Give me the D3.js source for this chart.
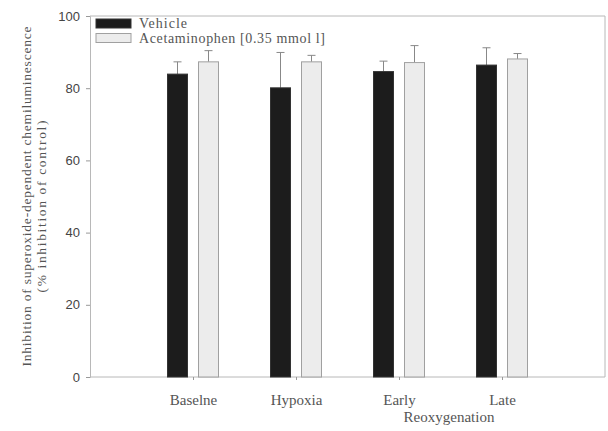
<!DOCTYPE html>
<html>
<head>
<meta charset="utf-8">
<script src="https://cdn.jsdelivr.net/npm/d3@7"></script>
<style>
  body { margin: 0; background: #ffffff; }
</style>
</head>
<body>
<div class="chart-wrapper"></div>
<script>
let categories = ["Baseline", "Hypoxia", "Early", "Late"];
let categoryLabels = ["Baselne", "Hypoxia", "Early", "Late"];
let seriesNames = ["Vehicle", "Acetaminophen [0.35 mmol l]"];
let vehicleValues = [83.9, 80.1, 84.6, 86.4];
let vehicleErrors = [3.4, 9.8, 2.9, 4.8];
let acetValues = [87.3, 87.3, 87.1, 88.1];
let acetErrors = [3.1, 1.8, 4.7, 1.5];
let yTicks = [0, 20, 40, 60, 80, 100];

let w = 608;
let h = 431;
let plotLeft = 90;
let plotRight = 605;
let plotTop = 16;
let plotBottom = 377;
let barW = 20;
let barGap = 11;
let serif = "'Liberation Serif', 'DejaVu Serif', serif";
let textColor = "#555";

let viz = d3.select(".chart-wrapper")
          .append("svg")
          .attr("width", w)
          .attr("height", h)
          .style("background-color", "#ffffff")
;

let xScale = d3.scalePoint().domain(categories).range([plotLeft, plotRight]).padding(1);
let yScale = d3.scaleLinear().domain([0, 100]).range([plotBottom, plotTop]);

// frame (top + right)
viz.append("path")
    .attr("d", "M" + plotLeft + "," + plotTop + "H" + plotRight + "V" + plotBottom)
    .attr("fill", "none")
    .attr("stroke", "#b8b8b8")
    .attr("stroke-width", 1)
;

// y axis
let yAxis = d3.axisLeft(yScale).tickValues(yTicks).tickSize(4).tickPadding(6);
let yAxisGroup = viz.append("g")
                    .attr("class", "yaxisgroup")
                    .attr("transform", "translate(" + plotLeft + ",0)")
;
yAxisGroup.call(yAxis);
yAxisGroup.select(".domain").attr("stroke", "#b8b8b8");
yAxisGroup.selectAll(".tick line").attr("stroke", "#999");
yAxisGroup.selectAll(".tick text")
            .attr("fill", "#444")
            .style("font-family", "'Liberation Sans', Arial, sans-serif")
            .style("font-size", "13px")
;

// x axis
let xAxis = d3.axisBottom(xScale).tickSize(3).tickFormat((d, i) => categoryLabels[i]).tickPadding(14);
let xAxisGroup = viz.append("g")
                    .attr("class", "xaxisgroup")
                    .attr("transform", "translate(0," + plotBottom + ")")
;
xAxisGroup.call(xAxis);
xAxisGroup.select(".domain").attr("d", "M" + plotLeft + ",0H" + plotRight).attr("stroke", "#b8b8b8");
xAxisGroup.selectAll(".tick line").attr("stroke", "#999");
xAxisGroup.selectAll(".tick text")
            .attr("fill", textColor)
            .style("font-family", serif)
            .style("font-size", "15px")
;

// bars
let groups = viz.append("g").attr("class", "bargroup");
let barData = [];
for (let i = 0; i < categories.length; i++) {
  barData.push({cat: categories[i], s: 0, v: vehicleValues[i], e: vehicleErrors[i]});
  barData.push({cat: categories[i], s: 1, v: acetValues[i], e: acetErrors[i]});
}

function barX(d) {
  if (d.s == 0) {
    return xScale(d.cat) - barGap / 2 - barW;
  } else {
    return xScale(d.cat) + barGap / 2;
  }
}

// error bars (drawn first so bar covers the lower part)
groups.selectAll(".errline").data(barData).enter()
      .append("line")
      .attr("class", "errline")
      .attr("x1", d => barX(d) + barW / 2)
      .attr("x2", d => barX(d) + barW / 2)
      .attr("y1", d => yScale(d.v))
      .attr("y2", d => yScale(d.v + d.e))
      .attr("stroke", "#888")
      .attr("stroke-width", 1)
;
groups.selectAll(".errcap").data(barData).enter()
      .append("line")
      .attr("class", "errcap")
      .attr("x1", d => barX(d) + barW / 2 - 4)
      .attr("x2", d => barX(d) + barW / 2 + 4)
      .attr("y1", d => yScale(d.v + d.e))
      .attr("y2", d => yScale(d.v + d.e))
      .attr("stroke", "#888")
      .attr("stroke-width", 1)
;

groups.selectAll(".bar").data(barData).enter()
      .append("rect")
      .attr("class", "bar")
      .attr("x", barX)
      .attr("y", d => yScale(d.v))
      .attr("width", barW)
      .attr("height", d => plotBottom - yScale(d.v))
      .attr("fill", d => d.s == 0 ? "#1c1c1c" : "#ececec")
      .attr("stroke", d => d.s == 0 ? "#333" : "#a0a0a0")
      .attr("stroke-width", 1)
;

// legend
let legendWidths = [48, 186];
let legend = viz.append("g").attr("class", "legend");
legend.selectAll("rect").data(seriesNames).enter()
      .append("rect")
      .attr("x", 96)
      .attr("y", (d, i) => 19 + i * 14.5)
      .attr("width", 35)
      .attr("height", 9)
      .attr("fill", (d, i) => i == 0 ? "#1c1c1c" : "#ececec")
      .attr("stroke", (d, i) => i == 0 ? "#333" : "#a0a0a0")
;
legend.selectAll("text").data(seriesNames).enter()
      .append("text")
      .attr("x", 139)
      .attr("y", (d, i) => 28 + i * 15)
      .attr("textLength", (d, i) => legendWidths[i])
      .attr("lengthAdjust", "spacing")
      .text(d => d)
      .attr("fill", textColor)
      .style("font-family", serif)
      .style("font-size", "14px")
;

// axis titles
let yTitle = viz.append("text")
                .attr("transform", "translate(31," + ((plotTop + plotBottom) / 2) + ") rotate(-90)")
                .attr("text-anchor", "middle")
                .attr("fill", textColor)
                .style("font-family", serif)
                .style("font-size", "13.5px")
;
yTitle.append("tspan").attr("x", 0).attr("y", 0)
      .attr("textLength", 340).attr("lengthAdjust", "spacing")
      .text("Inhibition of superoxide-dependent chemiluminescence");
yTitle.append("tspan").attr("x", -10).attr("y", 15)
      .attr("textLength", 172).attr("lengthAdjust", "spacing")
      .text("(% inhibition of control)");

viz.append("text")
    .attr("x", 449)
    .attr("y", 422)
    .attr("text-anchor", "middle")
    .text("Reoxygenation")
    .attr("fill", textColor)
    .style("font-family", serif)
    .style("font-size", "15px")
;
</script>
</body>
</html>
